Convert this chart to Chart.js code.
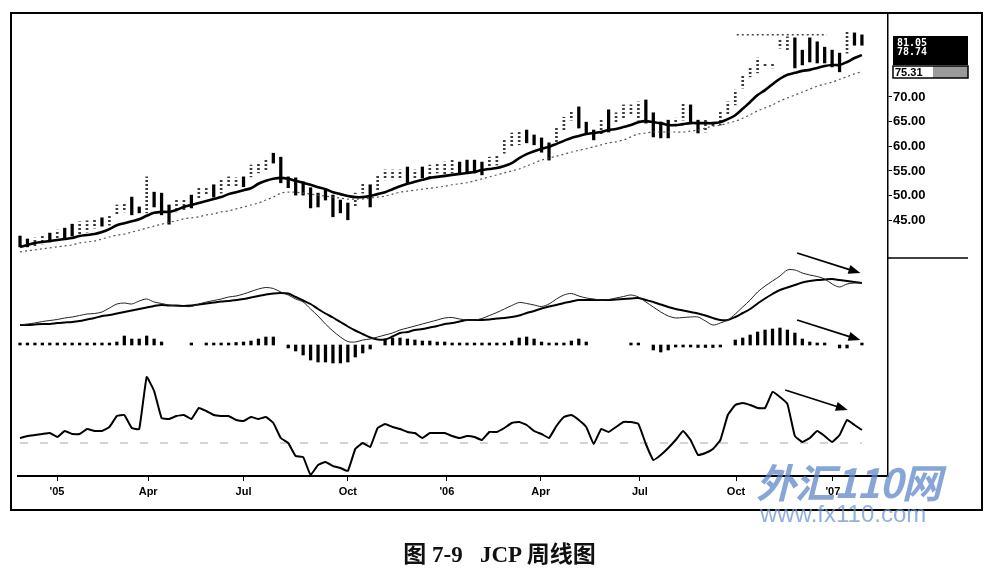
<!DOCTYPE html>
<html>
<head>
<meta charset="utf-8">
<title>JCP 周线图</title>
<script src="https://cdn.jsdelivr.net/npm/chart.js@4/dist/chart.umd.min.js"></script>
<style>
  html, body { margin: 0; padding: 0; background: #fff; }
  #wrap { position: relative; width: 999px; height: 576px; overflow: hidden; }
  #chart { position: absolute; left: 0; top: 0; }
  #wm1 { position: absolute; left: 756px; top: 452px; font: italic bold 40px "Noto Sans CJK SC", sans-serif; color: rgba(95, 135, 200, 0.75); letter-spacing: -1px; }
  #wm2 { position: absolute; left: 760px; top: 500px; font: 24px "Liberation Sans", sans-serif; color: rgba(110, 150, 210, 0.75); }
  #caption { position: absolute; left: 0; top: 535px; width: 999px; text-align: center; font: bold 23px "Liberation Serif", "Noto Sans CJK SC", serif; color: #111; }
</style>
</head>
<body>
<div id="wrap">
  <canvas id="chart" width="999" height="576"></canvas>
  <div id="wm1">外汇110网</div>
  <div id="wm2">www.fx110.com</div>
  <div id="caption">图 7-9&nbsp;&nbsp;&nbsp;JCP 周线图</div>
</div>
<script>
// weekly bars, index 0 = first week shown (early Dec 2004)
const barHigh = [
    41.8, 41.2, 41.4, 41.8, 42.4, 43.0, 43.4, 44.2, 44.7, 44.9,
    45.1, 45.5, 46.1, 48.1, 48.5, 49.7, 47.7, 53.8, 50.7, 50.5,
    48.1, 49.1, 49.1, 50.1, 51.8, 51.8, 52.2, 53.2, 53.8, 53.6,
    53.8, 56.2, 56.6, 57.2, 58.6, 57.8, 53.8, 53.6, 52.8, 51.6,
    50.5, 51.1, 50.1, 49.1, 48.5, 50.5, 52.6, 52.2, 54.2, 55.2,
    55.2, 55.2, 55.8, 55.2, 55.8, 56.2, 56.6, 56.8, 57.2, 56.8,
    57.2, 57.2, 56.8, 57.8, 58.2, 61.3, 62.7, 62.9, 63.3, 62.3,
    61.7, 60.7, 63.7, 65.9, 67.0, 68.0, 64.9, 63.3, 65.3, 67.4,
    66.8, 68.4, 68.4, 69.0, 69.4, 66.8, 64.9, 65.3, 65.7, 68.8,
    68.4, 65.3, 65.3, 64.9, 67.0, 69.0, 71.4, 74.5, 75.9, 77.9,
    76.9, 76.9, 81.6, 82.2, 82.0, 79.5, 82.0, 81.2, 80.1, 79.5,
    78.9, 83.2, 83.0, 82.6
];
const barLow = [
    39.6, 39.6, 39.8, 40.2, 40.6, 41.0, 41.4, 41.8, 42.2, 42.6,
    43.4, 43.8, 44.0, 46.1, 46.7, 46.1, 46.5, 46.5, 47.7, 46.1,
    44.2, 46.7, 47.1, 47.5, 49.5, 50.1, 49.7, 50.5, 51.6, 51.8,
    51.8, 53.8, 54.6, 55.2, 56.6, 52.6, 51.6, 50.1, 50.1, 47.5,
    47.7, 49.1, 45.7, 46.5, 45.1, 47.7, 50.5, 47.7, 51.1, 53.2,
    53.2, 53.2, 52.6, 53.2, 53.6, 53.8, 54.6, 53.8, 54.6, 54.6,
    54.6, 54.6, 54.2, 55.2, 56.2, 58.6, 59.9, 60.3, 60.7, 60.3,
    58.8, 57.2, 60.9, 63.3, 65.3, 63.7, 62.7, 61.3, 62.3, 62.9,
    64.9, 65.7, 66.4, 65.3, 64.7, 61.9, 61.7, 61.7, 63.9, 65.3,
    64.9, 62.7, 62.9, 63.9, 64.3, 66.4, 68.4, 71.8, 74.1, 74.9,
    76.1, 75.9, 79.9, 79.5, 75.9, 76.5, 77.1, 76.9, 76.9, 76.1,
    75.1, 78.9, 80.5, 80.5
];
// 1 = dark (falling) bar, 0 = light dotted bar
const barDark = [
    1, 1, 0, 0, 1, 0, 1, 1, 0, 0,
    0, 1, 0, 0, 0, 1, 1, 0, 1, 1,
    1, 0, 0, 1, 0, 0, 1, 0, 0, 0,
    1, 0, 0, 0, 1, 1, 1, 1, 1, 1,
    1, 1, 1, 1, 1, 0, 0, 1, 0, 0,
    0, 0, 1, 0, 1, 0, 0, 0, 0, 1,
    1, 1, 1, 0, 0, 0, 0, 0, 1, 1,
    1, 1, 0, 0, 0, 1, 1, 1, 0, 1,
    0, 0, 0, 0, 1, 1, 1, 1, 0, 0,
    1, 1, 0, 0, 0, 0, 0, 0, 0, 0,
    0, 0, 0, 0, 1, 1, 1, 1, 1, 1,
    1, 0, 1, 1
];
const emaFast = [
    39.6, 40.0, 40.4, 40.6, 40.8, 41.0, 41.2, 41.4, 41.8, 42.0,
    42.2, 42.6, 43.2, 44.0, 44.4, 44.8, 45.2, 45.9, 46.5, 46.7,
    46.7, 47.1, 47.7, 48.1, 48.5, 48.9, 49.3, 49.7, 50.3, 50.7,
    51.1, 51.5, 52.4, 53.0, 53.4, 53.6, 53.4, 53.0, 52.6, 52.2,
    51.7, 51.3, 50.7, 50.3, 49.9, 49.7, 49.7, 49.9, 50.3, 50.7,
    51.3, 51.9, 52.4, 52.8, 53.2, 53.6, 53.8, 54.0, 54.2, 54.4,
    54.6, 54.8, 55.2, 55.4, 55.6, 56.0, 56.6, 57.6, 58.4, 59.0,
    59.5, 59.9, 60.5, 61.1, 61.7, 62.1, 62.5, 62.7, 62.9, 63.3,
    63.5, 63.9, 64.3, 64.9, 65.1, 64.9, 64.7, 64.3, 64.3, 64.5,
    64.7, 64.7, 64.7, 64.7, 64.9, 65.5, 66.3, 67.6, 69.0, 70.4,
    71.4, 72.6, 73.7, 74.5, 74.9, 75.3, 75.5, 75.9, 76.3, 76.5,
    76.5, 77.1, 77.9, 78.5
];
const emaSlow = [
    38.6, 38.8, 39.0, 39.2, 39.4, 39.6, 39.8, 40.0, 40.4, 40.6,
    40.8, 41.2, 41.6, 42.0, 42.2, 42.6, 43.0, 43.4, 43.8, 44.2,
    44.6, 44.9, 45.3, 45.5, 45.7, 46.1, 46.3, 46.7, 46.9, 47.3,
    47.7, 48.1, 48.5, 49.1, 49.7, 50.5, 50.7, 50.7, 50.5, 50.3,
    50.1, 49.9, 49.7, 49.5, 49.3, 49.3, 49.3, 49.5, 49.7, 49.9,
    50.3, 50.7, 50.9, 51.1, 51.3, 51.5, 51.7, 51.9, 52.2, 52.4,
    52.6, 53.0, 53.4, 53.8, 54.2, 54.6, 55.0, 55.4, 56.0, 56.6,
    57.2, 57.6, 58.0, 58.4, 58.8, 59.2, 59.5, 59.9, 60.3, 60.7,
    60.9, 61.3, 61.9, 62.5, 62.7, 62.9, 62.9, 62.9, 62.9, 62.9,
    63.1, 63.3, 63.7, 64.1, 64.3, 64.7, 65.1, 65.7, 66.4, 67.2,
    67.8, 68.4, 69.2, 69.8, 70.4, 71.0, 71.6, 72.2, 72.6, 73.0,
    73.6, 74.1, 74.7, 75.1
];
const macdLine = [
    0.5, 0.6, 0.7, 0.85, 0.95, 1.05, 1.2, 1.3, 1.45, 1.6,
    1.65, 1.8, 2.2, 2.6, 2.7, 2.6, 2.9, 3.1, 2.8, 2.65,
    2.5, 2.4, 2.35, 2.35, 2.6, 2.8, 2.95, 3.1, 3.3, 3.4,
    3.6, 3.85, 4.1, 4.25, 4.15, 3.8, 3.5, 3.1, 2.8, 2.1,
    1.4, 0.6, -0.1, -0.7, -1.15, -1.2, -1.0, -0.9, -0.7, -0.5,
    -0.3, 0.0, 0.2, 0.4, 0.6, 0.8, 1.0, 1.2, 1.25, 1.1,
    1.0, 1.0, 1.15, 1.45, 1.75, 2.1, 2.45, 2.75, 2.65, 2.5,
    2.35, 2.6, 3.1, 3.5, 3.65, 3.4, 3.2, 3.1, 3.0, 3.05,
    3.2, 3.35, 3.5, 3.3, 2.8, 2.3, 1.8, 1.4, 1.2, 1.25,
    1.3, 1.3, 0.9, 0.5, 0.7, 1.0, 1.6, 2.3, 3.0, 3.8,
    4.4, 4.9, 5.4, 6.0, 6.0, 5.7, 5.5, 5.35, 5.1, 4.6,
    4.3, 4.6, 4.7, 4.7
];
const macdSignal = [
    0.5, 0.5, 0.55, 0.6, 0.6, 0.7, 0.75, 0.8, 0.9, 1.05,
    1.2, 1.4, 1.5, 1.65, 1.8, 1.95, 2.1, 2.25, 2.4, 2.5,
    2.45, 2.45, 2.4, 2.45, 2.55, 2.65, 2.75, 2.85, 2.9, 3.0,
    3.1, 3.25, 3.4, 3.55, 3.65, 3.7, 3.65, 3.3, 2.95, 2.6,
    2.1, 1.65, 1.25, 0.8, 0.35, -0.05, -0.4, -0.75, -0.95, -0.95,
    -0.65, -0.3, -0.2, 0.0, 0.1, 0.25, 0.4, 0.6, 0.7, 0.85,
    1.0, 1.0, 1.0, 1.05, 1.15, 1.2, 1.3, 1.45, 1.7, 1.9,
    2.15, 2.35, 2.5, 2.7, 2.85, 3.0, 3.0, 3.0, 3.0, 3.0,
    3.05, 3.1, 3.15, 3.2, 3.0, 2.8, 2.55, 2.3, 2.1, 1.95,
    1.8, 1.65, 1.45, 1.2, 1.0, 1.0, 1.3, 1.7, 2.1, 2.65,
    3.15, 3.6, 4.0, 4.25, 4.5, 4.75, 4.9, 5.0, 5.05, 5.1,
    5.0, 4.9, 4.8, 4.7
];
const macdHist = [
    0.1, 0.1, 0.1, 0.15, 0.1, 0.15, 0.15, 0.15, 0.2, 0.2,
    0.2, 0.2, 0.2, 0.3, 0.9, 0.6, 0.6, 0.9, 0.6, 0.3,
    null, null, null, 0.1, null, 0.1, 0.15, 0.2, 0.2, 0.25,
    0.3, 0.4, 0.6, 0.8, 0.8, null, -0.3, -0.6, -1.0, -1.5,
    -1.7, -1.7, -1.8, -1.8, -1.7, -1.2, -0.8, -0.4, null, 0.6,
    0.7, 0.7, 0.6, 0.5, 0.4, 0.4, 0.3, 0.3, 0.2, 0.2,
    0.15, 0.15, 0.15, 0.15, 0.2, 0.2, 0.4, 0.7, 0.8, 0.6,
    0.3, 0.1, 0.1, 0.2, 0.4, 0.6, 0.3, null, null, null,
    null, null, 0.1, 0.1, null, -0.5, -0.7, -0.5, -0.2, -0.2,
    -0.2, -0.25, -0.25, -0.25, -0.2, null, 0.5, 0.7, 1.0, 1.3,
    1.5, 1.6, 1.7, 1.5, 1.2, 0.6, 0.3, 0.2, 0.1, null,
    -0.3, -0.3, null, 0.1
];
const forceIndex = [
    0.5, 0.7, 0.8, 0.9, 1.0, 0.6, 1.2, 0.9, 0.9, 1.4,
    1.2, 1.2, 1.6, 2.7, 2.8, 1.5, 1.4, 6.6, 5.2, 2.5,
    2.4, 2.7, 2.8, 2.4, 3.5, 3.2, 2.8, 2.7, 2.7, 2.3,
    2.2, 2.6, 2.4, 2.6, 2.0, 0.5, 0.0, -1.3, -1.4, -3.2,
    -2.2, -1.9, -2.3, -2.5, -2.8, -0.6, 0.0, -0.4, 1.5, 1.9,
    1.6, 1.4, 1.1, 1.0, 0.5, 1.0, 1.0, 1.0, 0.7, 0.5,
    0.7, 0.6, 0.3, 1.1, 1.1, 1.5, 2.0, 2.1, 1.8, 1.2,
    0.9, 0.5, 1.7, 2.6, 2.8, 2.3, 1.6, -0.1, 1.4, 1.1,
    1.6, 2.1, 2.1, 1.9, -0.1, -1.7, -1.2, -0.5, 0.3, 1.2,
    0.3, -1.2, -1.0, -0.6, 0.3, 2.8, 3.8, 4.0, 3.8, 3.5,
    3.5, 5.1, 4.6, 3.9, 0.7, 0.1, 0.5, 1.2, 0.7, 0.1,
    0.8, 2.3, 1.8, 1.3
];

const weekTicks = [4.97, 17.2, 30.0, 44.0, 57.3, 69.9, 83.2, 96.1, 109.1];
const weekTickLabels = ["'05", 'Apr', 'Jul', 'Oct', "'06", 'Apr', 'Jul', 'Oct', "'07"];
const priceTicks = [45, 50, 55, 60, 65, 70];
const lastValues = ['81.05', '78.74', '75.31'];

// dotted line over the late-2006 highs
const topLineX = [96.2, 108.3];
const topLineLevel = 82.6;

// divergence arrows (one per pane)
const arrowAxis = ['yMacd', 'yHist', 'yForce'];
const arrowFromX = [104.3, 104.3, 102.7];
const arrowFromY = [7.7, 2.5, 5.3];
const arrowToX = [112.8, 112.8, 111.1];
const arrowToY = [5.7, 0.5, 3.3];

const weeks = barHigh.map((_, i) => i);

function dotPattern(ctx) {
    const c = document.createElement('canvas');
    c.width = 2;
    c.height = 4;
    const g = c.getContext('2d');
    g.fillStyle = '#3a3a3a';
    g.fillRect(0, 0, 2, 2);
    return ctx.createPattern(c, 'repeat');
}

const framePlugin = {
    id: 'frame',
    afterDatasetsDraw(chart) {
        const ctx = chart.ctx;
        const xs = chart.scales.x;
        ctx.save();
        ctx.strokeStyle = '#000';
        ctx.fillStyle = '#000';
        arrowAxis.forEach((id, k) => {
            const ys = chart.scales[id];
            const x0 = xs.getPixelForValue(arrowFromX[k]);
            const y0 = ys.getPixelForValue(arrowFromY[k]);
            const x1 = xs.getPixelForValue(arrowToX[k]);
            const y1 = ys.getPixelForValue(arrowToY[k]);
            const a = Math.atan2(y1 - y0, x1 - x0);
            ctx.lineWidth = 1.8;
            ctx.beginPath();
            ctx.moveTo(x0, y0);
            ctx.lineTo(x1 - 9 * Math.cos(a), y1 - 9 * Math.sin(a));
            ctx.stroke();
            ctx.beginPath();
            ctx.moveTo(x1, y1);
            ctx.lineTo(x1 - 12 * Math.cos(a) + 4.5 * Math.sin(a), y1 - 12 * Math.sin(a) - 4.5 * Math.cos(a));
            ctx.lineTo(x1 - 12 * Math.cos(a) - 4.5 * Math.sin(a), y1 - 12 * Math.sin(a) + 4.5 * Math.cos(a));
            ctx.closePath();
            ctx.fill();
        });
        ctx.restore();
    },
    afterDraw(chart) {
        const ctx = chart.ctx;
        const area = chart.chartArea;
        ctx.save();
        ctx.strokeStyle = '#000';
        ctx.lineWidth = 2;
        ctx.strokeRect(11, 13, 971, 497);
        ctx.lineWidth = 1.5;
        ctx.beginPath();
        ctx.moveTo(area.right, 258);
        ctx.lineTo(968, 258);
        ctx.stroke();

        // last-value box
        ctx.fillStyle = '#000';
        ctx.fillRect(893, 36, 75, 29);
        ctx.fillStyle = '#fff';
        ctx.font = 'bold 10px "DejaVu Sans Mono", monospace';
        ctx.textBaseline = 'middle';
        ctx.fillText(lastValues[0], 897, 43);
        ctx.fillText(lastValues[1], 897, 52);
        ctx.fillStyle = '#9a9a9a';
        ctx.fillRect(933, 66, 35, 12);
        ctx.strokeStyle = '#000';
        ctx.lineWidth = 1.5;
        ctx.strokeRect(893, 66, 75, 12);
        ctx.fillStyle = '#000';
        ctx.font = 'bold 11px "Liberation Sans", sans-serif';
        ctx.fillText(lastValues[2], 895, 72.5);
        ctx.restore();
    }
};

const ctx = document.getElementById('chart').getContext('2d');
const lightFill = dotPattern(ctx);

const tickFont = { family: '"Liberation Sans", Arial, sans-serif', weight: 'bold' };

new Chart(ctx, {
    type: 'bar',
    data: {
        datasets: [
            {
                type: 'line',
                label: 'EMA fast',
                data: weeks.map(i => ({ x: i, y: emaFast[i] })),
                yAxisID: 'yPrice',
                borderColor: '#000',
                borderWidth: 2.6,
                pointRadius: 0,
                tension: 0.3,
                order: 1
            },
            {
                type: 'line',
                label: 'EMA slow',
                data: weeks.map(i => ({ x: i, y: emaSlow[i] })),
                yAxisID: 'yPrice',
                borderColor: '#555',
                borderWidth: 1.2,
                borderDash: [2, 3],
                pointRadius: 0,
                tension: 0.3,
                order: 1
            },
            {
                type: 'line',
                label: 'top',
                data: topLineX.map(x => ({ x: x, y: topLineLevel })),
                yAxisID: 'yPrice',
                borderColor: '#444',
                borderWidth: 1.5,
                borderDash: [2, 3],
                pointRadius: 0,
                order: 1
            },
            {
                label: 'dark bars',
                data: weeks.filter(i => barDark[i]).map(i => ({ x: i, y: [barLow[i], barHigh[i]] })),
                yAxisID: 'yPrice',
                backgroundColor: '#000',
                barThickness: 2.6,
                grouped: false,
                order: 3
            },
            {
                label: 'light bars',
                data: weeks.filter(i => !barDark[i]).map(i => ({ x: i, y: [barLow[i], barHigh[i]] })),
                yAxisID: 'yPrice',
                backgroundColor: lightFill,
                barThickness: 2,
                grouped: false,
                order: 3
            },
            {
                type: 'line',
                label: 'MACD',
                data: weeks.map(i => ({ x: i, y: macdLine[i] })),
                yAxisID: 'yMacd',
                borderColor: '#222',
                borderWidth: 1,
                pointRadius: 0,
                tension: 0.3,
                order: 1
            },
            {
                type: 'line',
                label: 'Signal',
                data: weeks.map(i => ({ x: i, y: macdSignal[i] })),
                yAxisID: 'yMacd',
                borderColor: '#000',
                borderWidth: 2,
                pointRadius: 0,
                tension: 0.3,
                order: 1
            },
            {
                label: 'MACD-H',
                data: weeks.filter(i => macdHist[i] !== null).map(i => ({ x: i, y: macdHist[i] })),
                yAxisID: 'yHist',
                backgroundColor: '#000',
                barThickness: 2.6,
                minBarLength: 2,
                grouped: false,
                order: 3
            },
            {
                type: 'line',
                label: 'zero',
                data: [{ x: 0, y: 0 }, { x: weeks.length - 1, y: 0 }],
                yAxisID: 'yForce',
                borderColor: '#aaa',
                borderWidth: 1,
                borderDash: [8, 12],
                pointRadius: 0,
                order: 2
            },
            {
                type: 'line',
                label: 'Force',
                data: weeks.map(i => ({ x: i, y: forceIndex[i] })),
                yAxisID: 'yForce',
                borderColor: '#000',
                borderWidth: 2,
                pointRadius: 0,
                tension: 0.1,
                order: 1
            }
        ]
    },
    options: {
        responsive: false,
        animation: false,
        layout: { padding: { left: 18, top: 15, right: 0, bottom: 70 } },
        plugins: {
            legend: { display: false },
            tooltip: { enabled: false }
        },
        scales: {
            x: {
                type: 'linear',
                offset: false,
                min: -0.27,
                max: 116.5,
                afterBuildTicks: s => { s.ticks = weekTicks.map(v => ({ value: v })); },
                afterFit: s => { s.height = 30; },
                ticks: {
                    autoSkip: false,
                    maxRotation: 0,
                    padding: 4,
                    color: '#000',
                    font: { ...tickFont, size: 11 },
                    callback: (v, k) => weekTickLabels[k]
                },
                grid: { offset: false, drawOnChartArea: false, tickLength: 5, color: '#000' },
                border: { color: '#000', width: 2 }
            },
            yPrice: {
                type: 'linear',
                position: 'right',
                min: -6.87,
                max: 86.63,
                afterBuildTicks: s => { s.ticks = priceTicks.map(v => ({ value: v })); },
                afterFit: s => { s.width = 111; },
                ticks: {
                    padding: 1,
                    color: '#000',
                    font: { ...tickFont, size: 13 },
                    callback: v => v.toFixed(2)
                },
                grid: { drawOnChartArea: false, tickLength: 4, color: '#000' },
                border: { color: '#000', width: 1.5 }
            },
            yMacd: { type: 'linear', display: false, min: -14.6, max: 31.5 },
            yHist: { type: 'linear', display: false, min: -13.1, max: 33 },
            yForce: { type: 'linear', display: false, min: -3.3, max: 42.8 }
        }
    },
    plugins: [framePlugin]
});
</script>
</body>
</html>
